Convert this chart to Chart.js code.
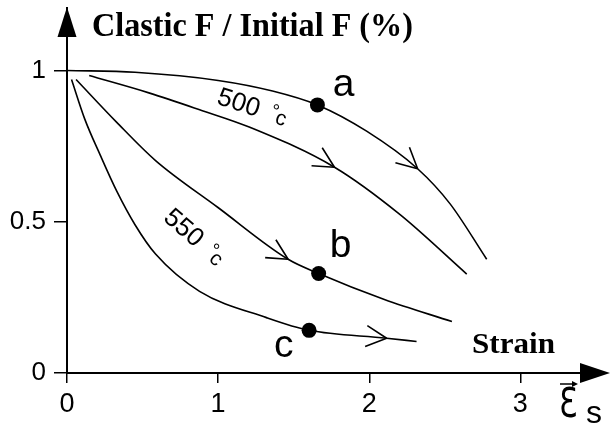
<!DOCTYPE html>
<html>
<head>
<meta charset="utf-8">
<script src="https://cdn.jsdelivr.net/npm/chart.js@4.4.1/dist/chart.umd.min.js"></script>
<style>
  html, body { margin: 0; padding: 0; background: #fff; }
  canvas { display: block; }
</style>
</head>
<body>
<canvas id="strainChart" width="611" height="434"></canvas>
<script>
// tick values
const xTicks = [0, 1, 2, 3];
const yTicks = [0, 0.5, 1];

// curve through a (500 °C, upper)
const curveAX = [0, 0.45, 1.0, 1.36, 1.657, 1.98, 2.32, 2.535, 2.777];
const curveAY = [1, 0.994, 0.967, 0.932, 0.886, 0.80, 0.675, 0.559, 0.376];
// 500 °C, lower
const curveBX = [0.147, 0.547, 0.878, 1.21, 1.77, 2.20, 2.645];
const curveBY = [0.983, 0.925, 0.87, 0.812, 0.68, 0.525, 0.327];
// curve through b (550 °C, upper)
const curveCX = [0.06, 0.326, 0.586, 0.999, 1.463, 1.665, 2.1, 2.547];
const curveCY = [0.97, 0.83, 0.702, 0.547, 0.376, 0.329, 0.243, 0.17];
// curve through c (550 °C, lower)
const curveDX = [0.03, 0.117, 0.22, 0.33, 0.45, 0.586, 0.877, 1.32, 1.602, 2.115, 2.313];
const curveDY = [0.97, 0.84, 0.72, 0.6, 0.49, 0.393, 0.27, 0.183, 0.141, 0.115, 0.104];

// where the direction arrows sit on each curve (x value of a curve point)
const arrowX = [2.32, 1.77, 1.463, 2.115];

// marked points a, b, c
const dotNames = ['a', 'b', 'c'];
const dotX = [1.657, 1.665, 1.602];
const dotY = [0.886, 0.329, 0.141];
const dotLabelX = [1.83, 1.81, 1.434];
const dotLabelY = [0.915, 0.385, 0.053];

// temperature labels
const tempText = ['500', '550'];
const tempX = [1.136, 0.769];
const tempY = [0.891, 0.478];
const tempAngle = [18, 41];

const curvesX = [curveAX, curveBX, curveCX, curveDX];
const curvesY = [curveAY, curveBY, curveCY, curveDY];

const toPts = (xs, ys) => xs.map((x, i) => ({ x: x, y: ys[i] }));

const datasets = curvesX.map((xs, k) => ({
  data: toPts(xs, curvesY[k]),
  showLine: true,
  borderColor: '#000',
  borderWidth: 1.6,
  pointRadius: 0,
  cubicInterpolationMode: 'monotone',
  fill: false
}));
datasets.push({
  data: toPts(dotX, dotY),
  showLine: false,
  pointRadius: 7.5,
  pointBackgroundColor: '#000',
  pointBorderWidth: 0
});

const sansFont = 'Liberation Sans, Arial, sans-serif';
const serifFont = 'Liberation Serif, Times New Roman, serif';

function fitText(ctx, text, x, y, width, font) {
  ctx.save();
  ctx.font = font;
  const w = ctx.measureText(text).width;
  ctx.translate(x, y);
  ctx.scale(width / w, 1);
  ctx.fillText(text, 0, 0);
  ctx.restore();
}

const decorations = {
  id: 'decorations',
  afterDatasetsDraw(chart) {
    const ctx = chart.ctx;
    const xs = chart.scales.x, ys = chart.scales.y;
    const area = chart.chartArea;
    ctx.save();
    ctx.strokeStyle = '#000';
    ctx.fillStyle = '#000';

    // direction chevrons
    ctx.lineWidth = 1.6;
    arrowX.forEach((ax, k) => {
      const idx = curvesX[k].indexOf(ax);
      const p = chart.getDatasetMeta(k).data[idx];
      const ang = Math.atan2(p.cp2y - p.cp1y, p.cp2x - p.cp1x);
      const L = 23;
      ctx.beginPath();
      [-0.47, 0.47].forEach(s => {
        const a = ang + Math.PI + s;
        ctx.moveTo(p.x, p.y);
        ctx.lineTo(p.x + L * Math.cos(a), p.y + L * Math.sin(a));
      });
      ctx.stroke();
    });

    // axis arrowheads
    ctx.beginPath();
    ctx.moveTo(area.left, 7);
    ctx.lineTo(area.left - 9.5, 37);
    ctx.lineTo(area.left + 9.5, 37);
    ctx.closePath();
    ctx.fill();
    ctx.beginPath();
    ctx.moveTo(610, area.bottom);
    ctx.lineTo(580, area.bottom - 10);
    ctx.lineTo(580, area.bottom + 10);
    ctx.closePath();
    ctx.fill();

    // a, b, c
    ctx.font = '300 39px ' + sansFont;
    ctx.textAlign = 'center';
    ctx.textBaseline = 'alphabetic';
    dotNames.forEach((n, i) => {
      ctx.fillText(n, xs.getPixelForValue(dotLabelX[i]), ys.getPixelForValue(dotLabelY[i]));
    });

    // temperature labels
    tempText.forEach((t, i) => {
      ctx.save();
      ctx.translate(xs.getPixelForValue(tempX[i]), ys.getPixelForValue(tempY[i]));
      ctx.rotate(tempAngle[i] * Math.PI / 180);
      ctx.textAlign = 'center';
      ctx.textBaseline = 'middle';
      ctx.font = '26px ' + sansFont;
      ctx.fillText(t, 0, 0);
      ctx.font = '19px ' + sansFont;
      ctx.fillText('°', 37, -3);
      ctx.font = '21px ' + sansFont;
      ctx.fillText('c', 45, 2);
      ctx.restore();
    });

    // title and axis names
    ctx.textAlign = 'left';
    ctx.textBaseline = 'alphabetic';
    fitText(ctx, 'Clastic F / Initial F (%)', 92, 36, 321, 'bold 33px ' + serifFont);
    fitText(ctx, 'Strain', 472, 353, 83, 'bold 30px ' + serifFont);

    // epsilon_s with vector arrow
    ctx.save();
    ctx.translate(559, 417);
    ctx.scale(0.75, 1);
    ctx.font = '40px DejaVu Sans, sans-serif';
    ctx.fillText('\u0190', 0, 0);
    ctx.restore();
    ctx.font = '32px ' + sansFont;
    ctx.fillText('s', 586, 423);
    ctx.lineWidth = 1.5;
    ctx.beginPath();
    ctx.moveTo(560, 384);
    ctx.lineTo(576, 384);
    ctx.stroke();
    ctx.beginPath();
    ctx.moveTo(578, 384);
    ctx.lineTo(572, 381);
    ctx.lineTo(572, 387);
    ctx.closePath();
    ctx.fill();

    ctx.restore();
  }
};

new Chart(document.getElementById('strainChart'), {
  type: 'scatter',
  data: { datasets: datasets },
  options: {
    responsive: false,
    animation: false,
    layout: { padding: { top: 7, right: 2, left: 0, bottom: 0 } },
    plugins: { legend: { display: false }, tooltip: { enabled: false } },
    scales: {
      x: {
        type: 'linear',
        min: 0,
        max: 3.55,
        afterBuildTicks: s => { s.ticks = xTicks.map(v => ({ value: v })); },
        afterFit: s => { s.height = 61; s.paddingLeft = 0; s.paddingRight = 0; },
        grid: { display: true, drawOnChartArea: false, drawTicks: true, tickLength: 10, color: '#000', lineWidth: 1.5 },
        border: { display: true, color: '#000', width: 2 },
        ticks: { color: '#000', padding: 5, font: { family: sansFont, size: 27 }, callback: v => String(v) }
      },
      y: {
        type: 'linear',
        min: 0,
        max: 1.208,
        afterBuildTicks: s => { s.ticks = yTicks.map(v => ({ value: v })); },
        afterFit: s => { s.width = 67; s.paddingTop = 0; s.paddingBottom = 0; },
        grid: { display: true, drawOnChartArea: false, drawTicks: true, tickLength: 13, color: '#000', lineWidth: 1.5 },
        border: { display: true, color: '#000', width: 2 },
        ticks: { color: '#000', padding: 8, font: { family: sansFont, size: 26 }, callback: v => String(v) }
      }
    }
  },
  plugins: [decorations]
});
</script>
</body>
</html>
